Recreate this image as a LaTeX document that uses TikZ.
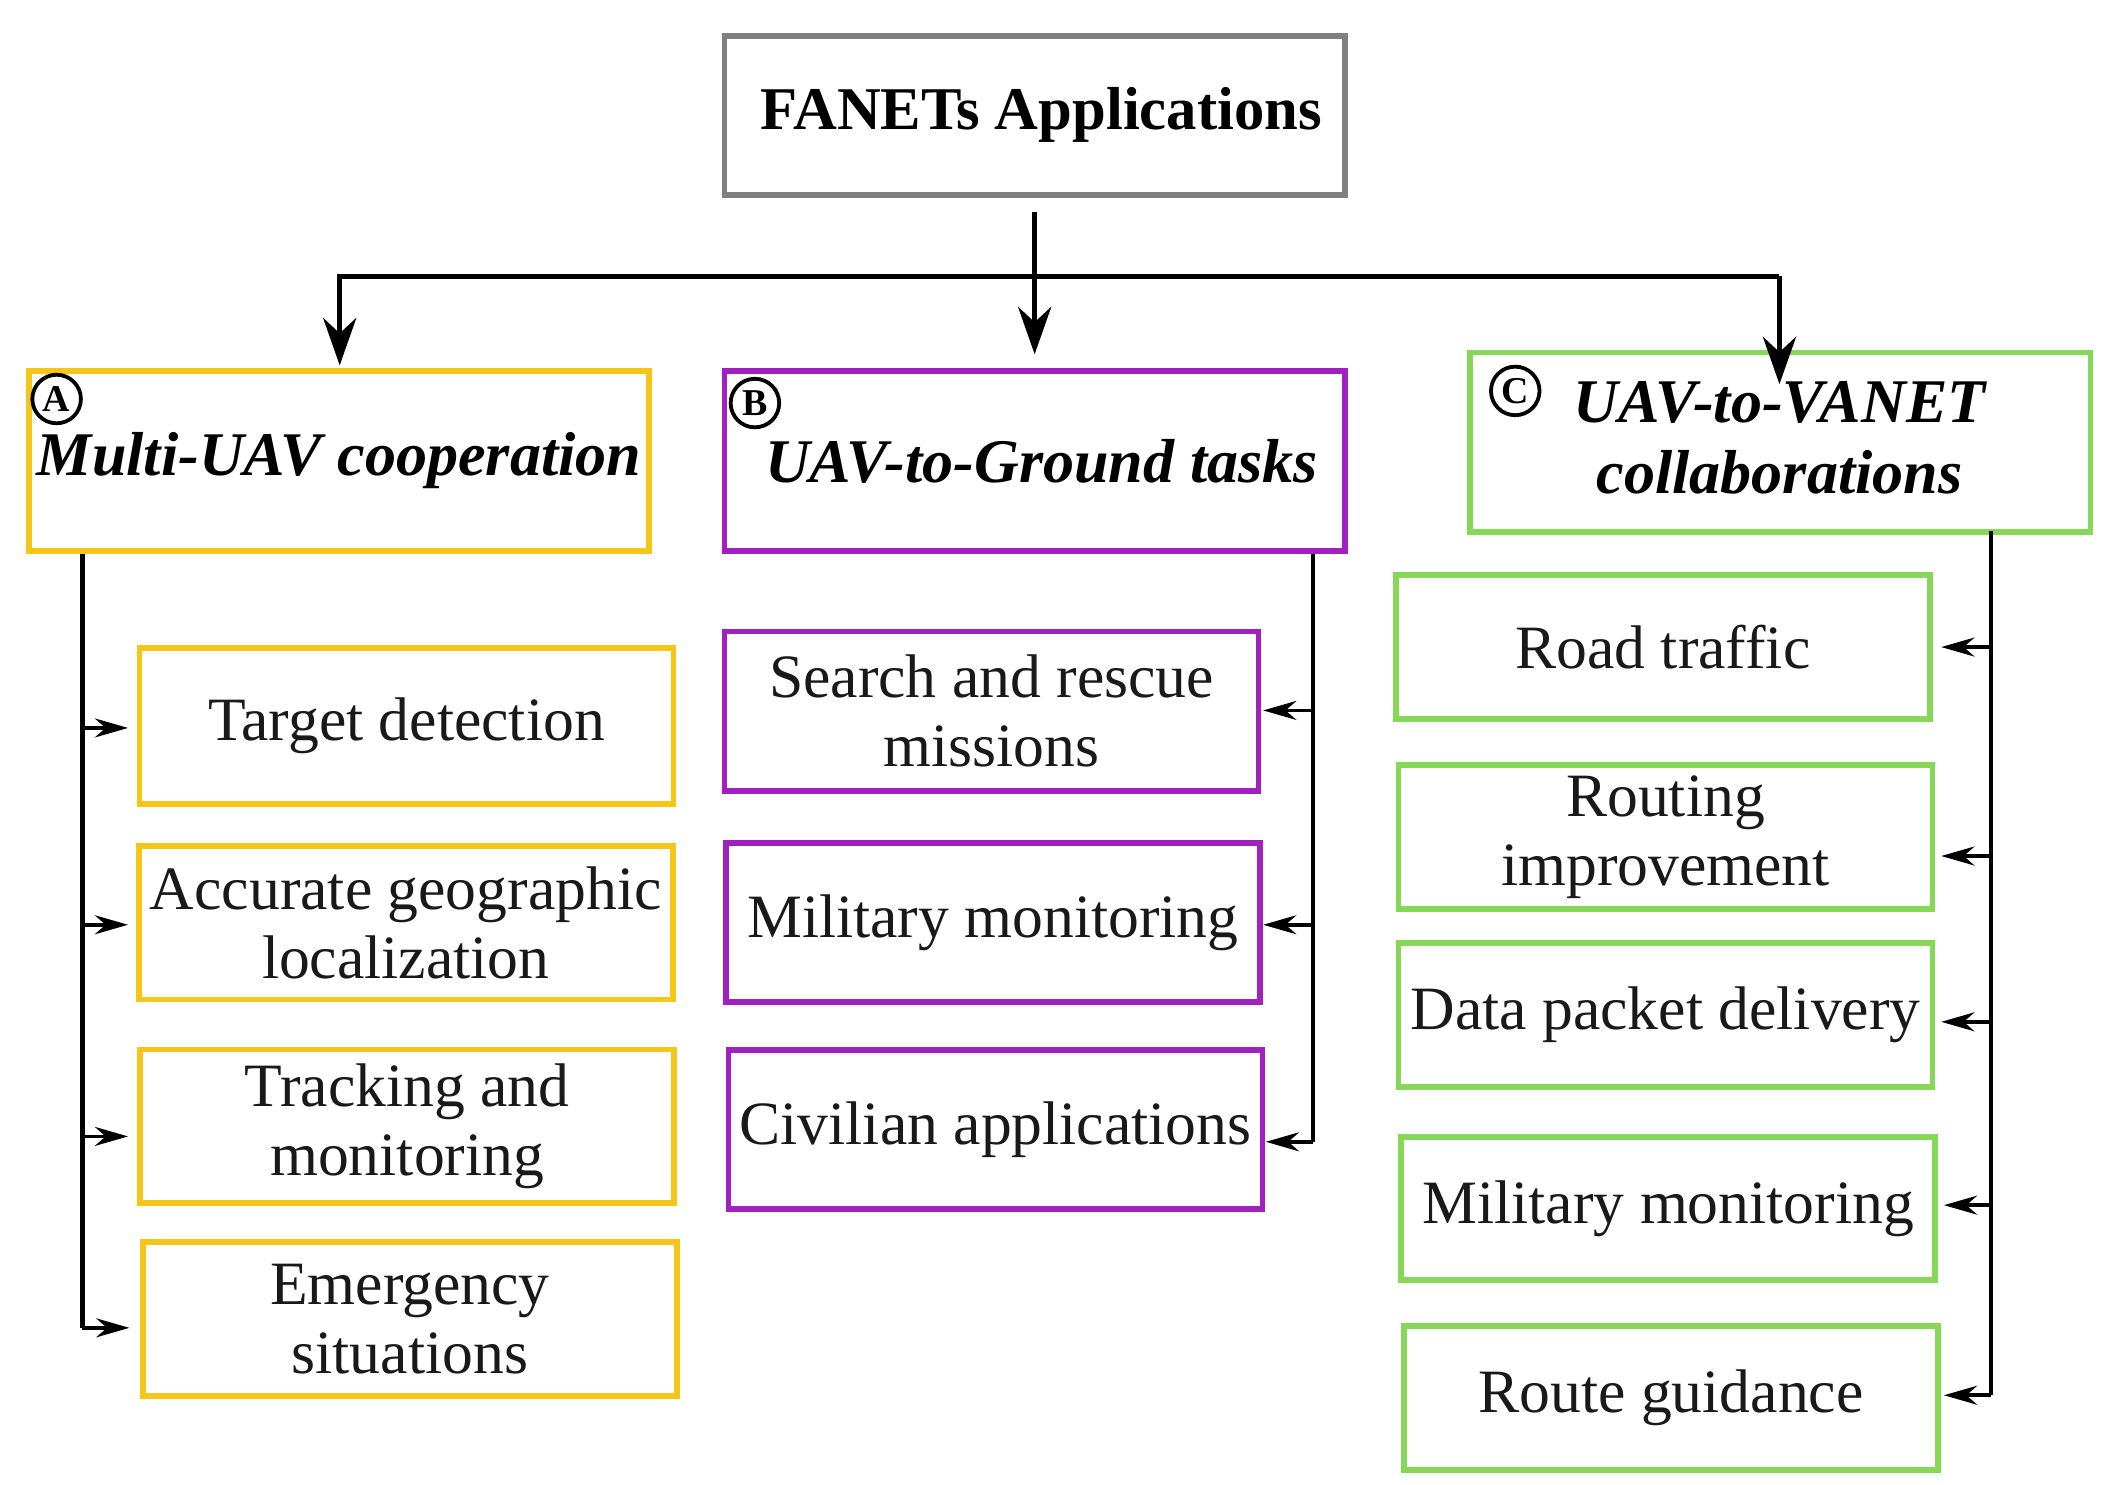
\documentclass[tikz,border=0pt]{standalone}
\usepackage{fontspec}
\setmainfont{Liberation Serif}
\usetikzlibrary{arrows.meta}
\definecolor{cy}{HTML}{F5C518}
\definecolor{cp}{HTML}{A020C0}
\definecolor{cg}{HTML}{88D858}
\begin{document}
\begin{tikzpicture}[x=0.01cm,y=-0.01cm,
  item/.style={draw,line width=1.2pt,align=center,inner sep=1pt,font=\fontsize{13}{14.5}\selectfont,text=black!90},
  head/.style={draw,line width=1.2pt,align=center,inner sep=1pt,font=\fontsize{13.1}{15}\selectfont\bfseries\itshape},
  big/.style={-{Stealth[length=10pt,width=7pt]},line width=1pt},
  sm/.style={-{Stealth[length=7pt,width=4pt]},line width=0.8pt},
  lbl/.style={circle,draw,line width=0.8pt,minimum size=0.36cm,inner sep=0pt,font=\fontsize{8}{8}\selectfont\bfseries}]
\useasboundingbox (0,0) rectangle (1560,1101);
% title
\node[draw=gray,line width=1.2pt,minimum width=4.6cm,minimum height=1.18cm,font=\fontsize{12.8}{15}\selectfont\bfseries] (T) at (767.5,85.5) {\hspace{0.1cm}FANETs Applications};
% heads
\node[head,draw=cy,minimum width=4.6cm,minimum height=1.33cm] (A) at (251.5,342) {Multi-UAV cooperation};
\node[head,draw=cp,minimum width=4.6cm,minimum height=1.33cm] (B) at (767.5,342) {\hspace{0.1cm}UAV-to-Ground tasks};
\node[head,draw=cg,minimum width=4.6cm,minimum height=1.33cm] (C) at (1320.5,328) {};
\node[font=\fontsize{13.1}{15}\selectfont\bfseries\itshape,align=center] (Ct) at (1320,325) {UAV-to-VANET\\collaborations};
\node[lbl] (la) at (42,296) {A};
\node[lbl] (lb) at (560,299) {B};
\node[lbl] (lc) at (1124,290) {C};
% left items
\node[item,draw=cy,minimum width=3.96cm,minimum height=1.16cm] (a1) at (301.5,538.5) {Target detection};
\node[item,draw=cy,minimum width=3.96cm,minimum height=1.14cm] (a2) at (301,684.5) {Accurate geographic\\localization};
\node[item,draw=cy,minimum width=3.96cm,minimum height=1.14cm] (a3) at (302,835.5) {Tracking and\\monitoring};
\node[item,draw=cy,minimum width=3.96cm,minimum height=1.14cm] (a4) at (304,978.5) {Emergency\\situations};
% middle items
\node[item,draw=cp,minimum width=3.96cm,minimum height=1.18cm] (b1) at (735.5,527.5) {Search and rescue\\missions};
\node[item,draw=cp,minimum width=3.96cm,minimum height=1.18cm] (b2) at (736.5,684.5) {Military monitoring};
\node[item,draw=cp,minimum width=3.96cm,minimum height=1.18cm] (b3) at (738.5,838) {Civilian applications};
% right items
\node[item,draw=cg,minimum width=3.96cm,minimum height=1.07cm] (c1) at (1233.5,480) {Road traffic};
\node[item,draw=cg,minimum width=3.96cm,minimum height=1.07cm] (c2) at (1235.5,621) {Routing\\improvement};
\node[item,draw=cg,minimum width=3.96cm,minimum height=1.07cm] (c3) at (1235.5,753) {Data packet delivery};
\node[item,draw=cg,minimum width=3.96cm,minimum height=1.06cm] (c4) at (1237.5,896.5) {Military monitoring};
\node[item,draw=cg,minimum width=3.96cm,minimum height=1.07cm] (c5) at (1239.5,1037) {Route guidance};
% top connectors
\coordinate (h0) at (250,205); \coordinate (h1) at (1320,205);
\draw[line width=1pt] (h0) -- (h1);
\draw[big] ([yshift=-3pt]T.south) -- ([yshift=3pt]B.north);
\draw[big] (252,205) -- (252,271);
\draw[big] (h1) -- (1320,285);
% left bus
\draw[line width=1pt] (A.south -| 61,0) -- (61,985);
\draw[sm] (61,540) -- (95,540);
\draw[sm] (61,686) -- (95,686);
\draw[sm] (61,843) -- (95,843);
\draw[sm] (61,985) -- (96,985);
% middle bus
\draw[line width=1pt] (B.south -| 974,0) -- (974,847);
\draw[sm] (974,527) -- (937,527);
\draw[sm] (974,686) -- (937,686);
\draw[sm] (974,847) -- (939,847);
% right bus
\draw[line width=1pt] (C.south -| 1477,0) ++(0,-3) -- (1477,1035);
\draw[sm] (1477,480) -- (1440,480);
\draw[sm] (1477,635) -- (1440,635);
\draw[sm] (1477,758) -- (1440,758);
\draw[sm] (1477,894) -- (1442,894);
\draw[sm] (1477,1035) -- (1442,1035);
\end{tikzpicture}
\end{document}
